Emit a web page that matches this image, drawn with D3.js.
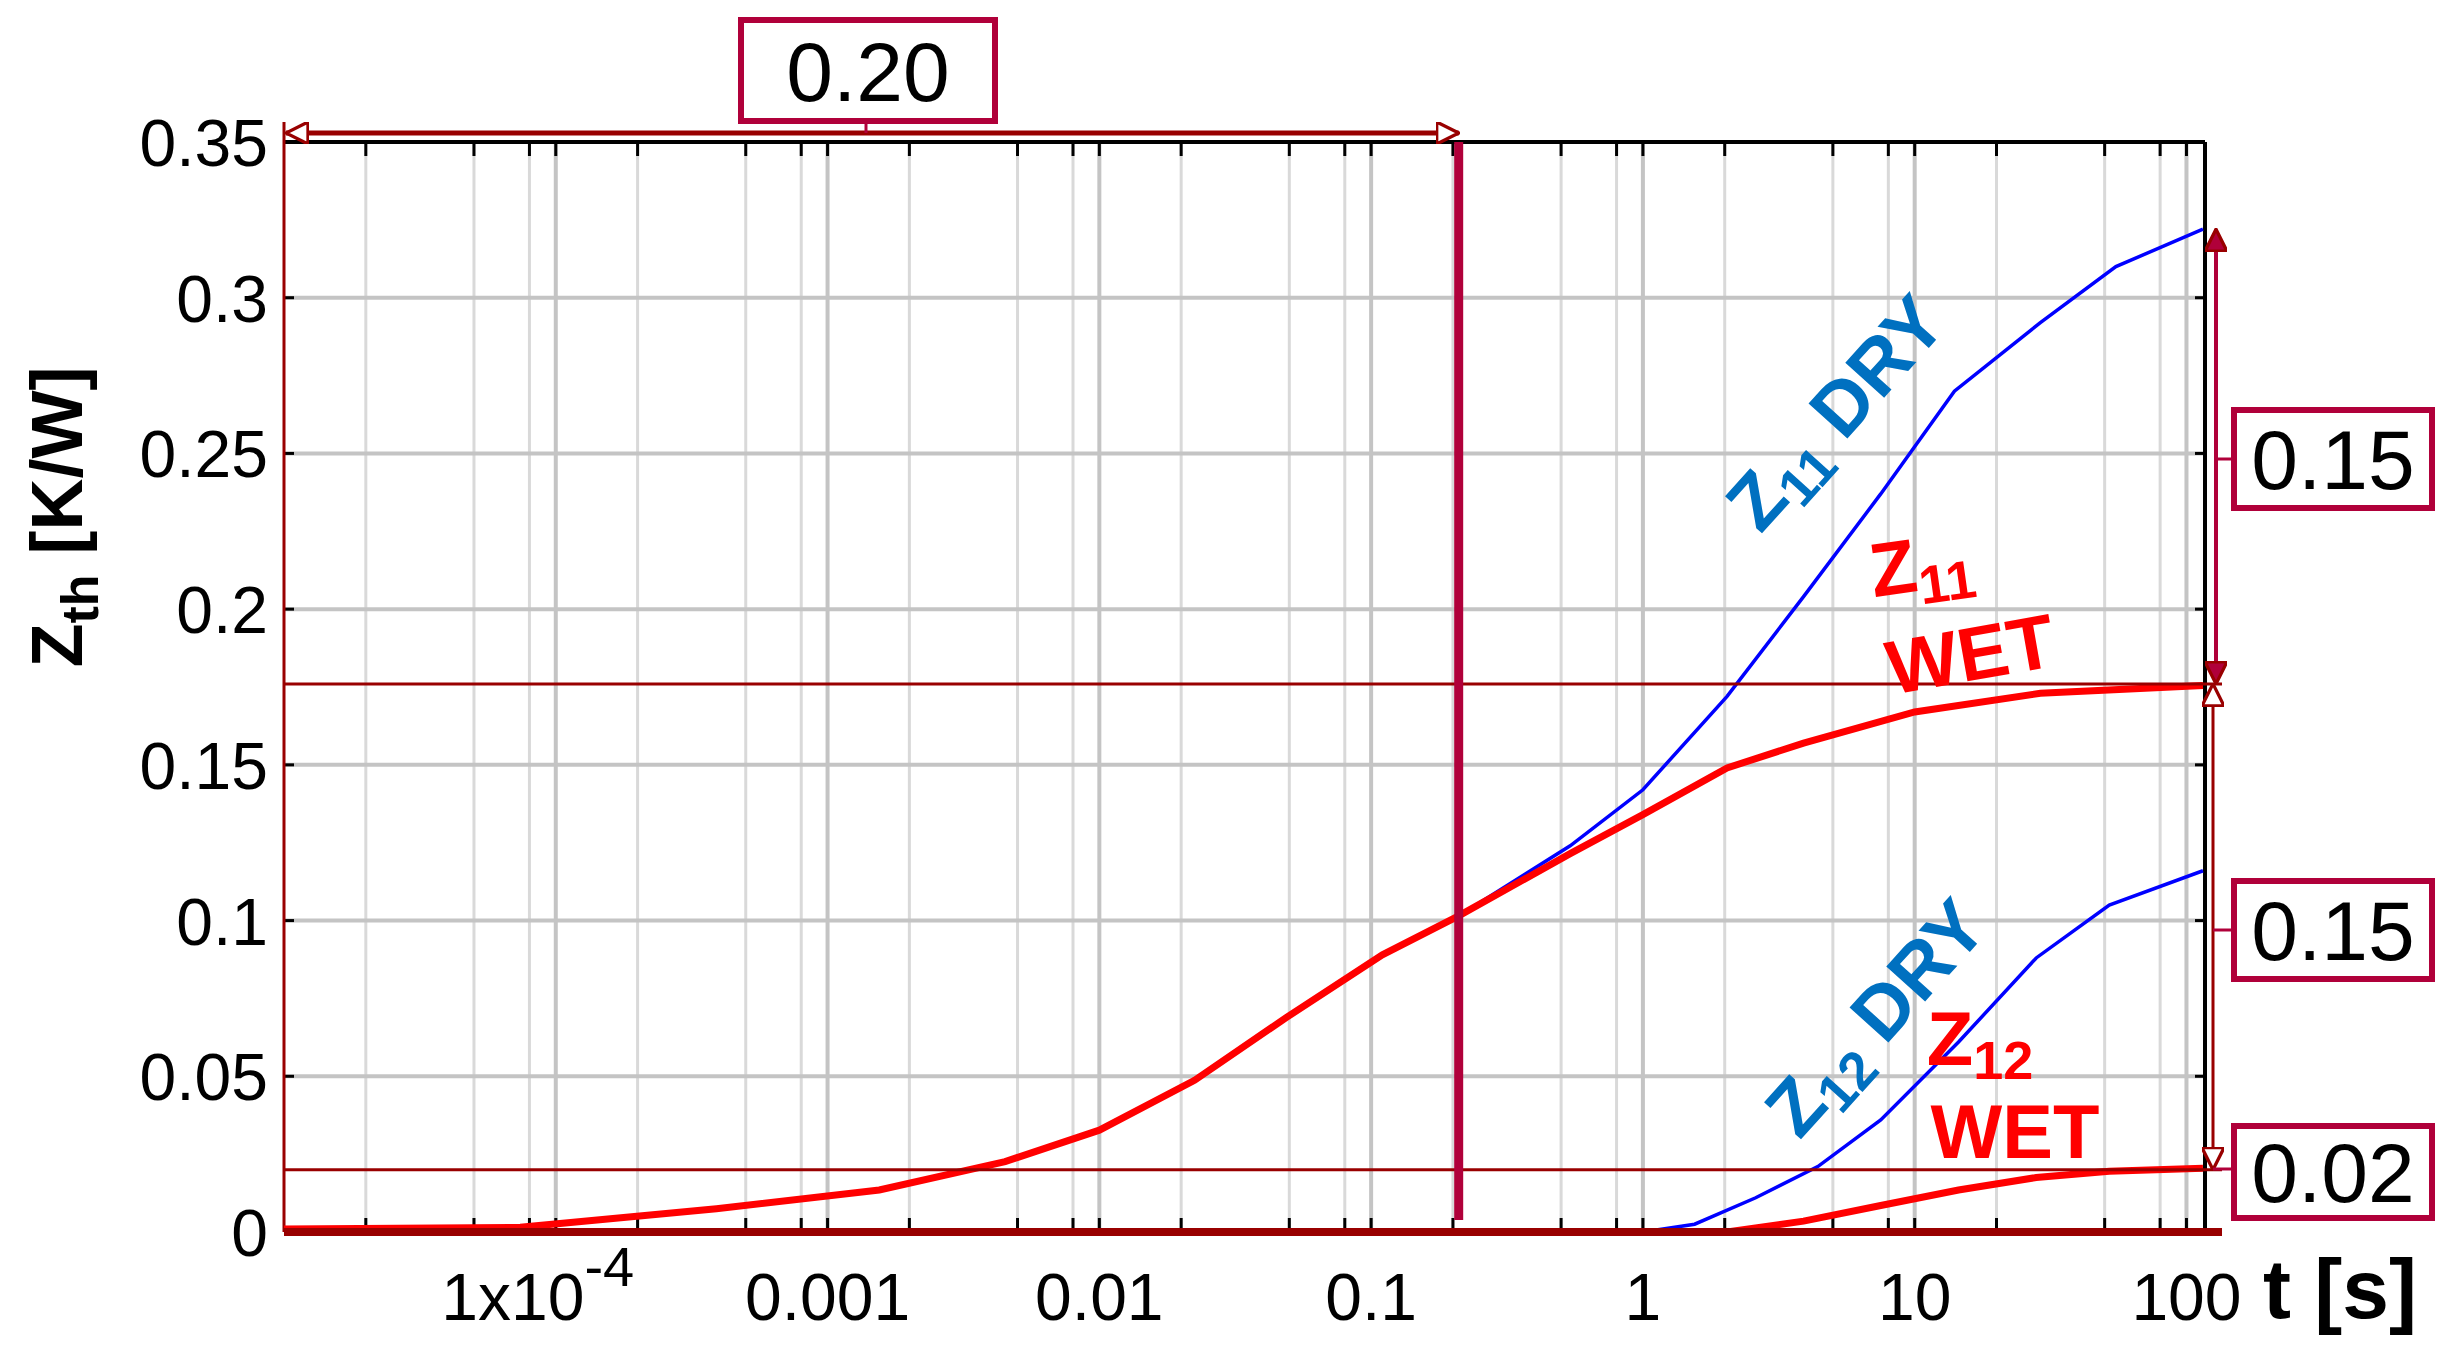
<!DOCTYPE html>
<html><head><meta charset="utf-8">
<script src="https://cdn.jsdelivr.net/npm/d3@7"></script>
<style>body{margin:0;background:#fff}</style>
</head><body>
<svg id="chart" width="2451" height="1371"></svg>
<script>
// data
const z11WetT = [1e-5, 7.4e-5, 3.9e-4, 1.55e-3, 4.5e-3, 0.01, 0.0224, 0.049, 0.11, 0.21, 0.54, 1, 2.04, 3.9, 10, 29, 115];
const z11WetV = [0.001, 0.0015, 0.0075, 0.0135, 0.0226, 0.0327, 0.0487, 0.069, 0.089, 0.1015, 0.1215, 0.134, 0.149, 0.157, 0.167, 0.173, 0.1755];
const z11DryT = [0.21, 0.54, 1, 2.04, 3.9, 7.5, 14, 29, 55, 115];
const z11DryV = [0.1015, 0.124, 0.142, 0.172, 0.204, 0.237, 0.27, 0.292, 0.31, 0.322];
const z12DryT = [1e-5, 1, 1.55, 2.6, 4.4, 7.5, 14.5, 28, 52, 115];
const z12DryV = [0, 0, 0.0025, 0.011, 0.021, 0.036, 0.061, 0.088, 0.105, 0.116];
const z12WetT = [1e-5, 2.04, 3.9, 7.5, 14.5, 28, 52, 115];
const z12WetV = [0, 0, 0.0035, 0.0085, 0.0135, 0.0175, 0.0195, 0.0205];
const xTicks = [1e-4, 1e-3, 1e-2, 0.1, 1, 10, 100];
const xTickLabels = ['1x10', '0.001', '0.01', '0.1', '1', '10', '100'];
const yTicks = [0, 0.05, 0.1, 0.15, 0.2, 0.25, 0.3, 0.35];
const markT = 0.21, markLevels = [0.176, 0.02], dryTop = 0.322;

const svg = d3.select('#chart');
const L = 284, R = 2205, T = 142, B = 1232;
const x = d3.scaleLog().domain([1e-5, 117]).range([L, R]);
const y = d3.scaleLinear().domain([0, 0.35]).range([B, T]);
const crimson = '#b0003a', dark = '#990000';
const narrow = '"Liberation Sans Narrow","Arial Narrow","Liberation Sans",sans-serif';
const sans = '"Liberation Sans",Arial,sans-serif';

// grid
const minors = [];
for (let e = -5; e <= 2; e++) [2, 5, 8].forEach(m => { const v = m * 10 ** e; if (v < 117) minors.push(v); });
svg.append('g').selectAll('line').data(minors).join('line')
  .attr('x1', d => x(d)).attr('x2', d => x(d)).attr('y1', T).attr('y2', B)
  .attr('stroke', '#d9d9d9').attr('stroke-width', 3);
svg.append('g').selectAll('line').data(xTicks).join('line')
  .attr('x1', d => x(d)).attr('x2', d => x(d)).attr('y1', T).attr('y2', B)
  .attr('stroke', '#c4c4c4').attr('stroke-width', 4);
svg.append('g').selectAll('line').data(yTicks.slice(1, -1)).join('line')
  .attr('x1', L).attr('x2', R).attr('y1', d => y(d)).attr('y2', d => y(d))
  .attr('stroke', '#c4c4c4').attr('stroke-width', 4);

// small ticks
const tickG = svg.append('g').attr('stroke', '#000').attr('stroke-width', 3);
minors.concat(xTicks).forEach(v => {
  tickG.append('line').attr('x1', x(v)).attr('x2', x(v)).attr('y1', T).attr('y2', T + 14);
  tickG.append('line').attr('x1', x(v)).attr('x2', x(v)).attr('y1', B).attr('y2', B - 14);
});
yTicks.slice(1, -1).forEach(v => {
  tickG.append('line').attr('x1', L).attr('x2', L + 10).attr('y1', y(v)).attr('y2', y(v));
  tickG.append('line').attr('x1', R).attr('x2', R - 10).attr('y1', y(v)).attr('y2', y(v));
});

// frame
svg.append('line').attr('x1', L).attr('x2', R).attr('y1', T).attr('y2', T).attr('stroke', '#000').attr('stroke-width', 4);
svg.append('line').attr('x1', R).attr('x2', R).attr('y1', T).attr('y2', B).attr('stroke', '#000').attr('stroke-width', 4);
svg.append('line').attr('x1', L).attr('x2', L).attr('y1', 122).attr('y2', B).attr('stroke', dark).attr('stroke-width', 3);

// tick labels
svg.append('g').selectAll('text').data(yTicks).join('text')
  .attr('x', L - 16).attr('y', d => y(d) + 24).attr('text-anchor', 'end')
  .attr('font-family', narrow).attr('font-size', 66).text(d => d);
const xl = svg.append('g').attr('font-family', narrow).attr('font-size', 66).attr('text-anchor', 'middle');
xTicks.forEach((v, i) => {
  const t = xl.append('text').attr('x', x(v) - (i === 0 ? 18 : 0)).attr('y', 1320).text(xTickLabels[i]);
  if (i === 0) t.append('tspan').attr('dy', -34).attr('font-size', 56).text('-4');
});

// curves
const line = d3.line().x(d => x(d[0])).y(d => y(d[1]));
const series = [
  [z11DryT, z11DryV, '#0000ff', 3.5], [z12DryT, z12DryV, '#0000ff', 3.5],
  [z11WetT, z11WetV, '#ff0000', 7], [z12WetT, z12WetV, '#ff0000', 7]];
series.forEach(([ts, vs, c, w]) => {
  svg.append('path').datum(ts.map((t, i) => [t, vs[i]])).attr('d', line)
    .attr('fill', 'none').attr('stroke', c).attr('stroke-width', w);
});

// level lines
svg.append('line').attr('x1', L).attr('x2', 2222).attr('y1', B).attr('y2', B).attr('stroke', dark).attr('stroke-width', 8);
markLevels.forEach(v => svg.append('line').attr('x1', L).attr('x2', 2222).attr('y1', y(v)).attr('y2', y(v)).attr('stroke', dark).attr('stroke-width', 3));

// vertical marker
svg.append('line').attr('x1', x(markT)).attr('x2', x(markT)).attr('y1', T).attr('y2', 1220).attr('stroke', crimson).attr('stroke-width', 9);

// arrows
const defs = svg.append('defs');
function marker(id, fill, orient) {
  defs.append('marker').attr('id', id).attr('viewBox', '0 0 10 10').attr('refX', 10).attr('refY', 5)
    .attr('markerWidth', 6).attr('markerHeight', 6).attr('orient', orient).attr('markerUnits', 'userSpaceOnUse')
    .attr('markerWidth', 24).attr('markerHeight', 22)
    .append('path').attr('d', 'M0,0L10,5L0,10Z').attr('fill', fill).attr('stroke', dark).attr('stroke-width', 1.5);
}
marker('af', crimson, 'auto-start-reverse');
marker('ao', '#fff', 'auto-start-reverse');
svg.append('line').attr('x1', L + 2).attr('x2', x(markT)).attr('y1', 133).attr('y2', 133)
  .attr('stroke', dark).attr('stroke-width', 5).attr('marker-start', 'url(#ao)').attr('marker-end', 'url(#ao)');
svg.append('line').attr('x1', 2216).attr('x2', 2216).attr('y1', y(dryTop)).attr('y2', y(markLevels[0]))
  .attr('stroke', crimson).attr('stroke-width', 4).attr('marker-start', 'url(#af)').attr('marker-end', 'url(#af)');
svg.append('line').attr('x1', 2213).attr('x2', 2213).attr('y1', y(markLevels[0])).attr('y2', y(markLevels[1]))
  .attr('stroke', dark).attr('stroke-width', 3).attr('marker-start', 'url(#ao)').attr('marker-end', 'url(#ao)');

// value boxes
function box(x0, y0, w, h, label, lx1, ly1, lx2, ly2) {
  svg.append('line').attr('x1', lx1).attr('y1', ly1).attr('x2', lx2).attr('y2', ly2).attr('stroke', crimson).attr('stroke-width', 3);
  svg.append('rect').attr('x', x0).attr('y', y0).attr('width', w).attr('height', h)
    .attr('fill', '#fff').attr('stroke', crimson).attr('stroke-width', 6);
  svg.append('text').attr('x', x0 + w / 2).attr('y', y0 + h / 2 + 30).attr('text-anchor', 'middle')
    .attr('font-family', sans).attr('font-size', 84).text(label);
}
box(741, 20, 254, 101, '0.20', 866, 121, 866, 133);
box(2234, 410, 198, 98, '0.15', 2216, 459, 2234, 459);
box(2234, 881, 198, 98, '0.15', 2213, 930, 2234, 930);
box(2234, 1126, 198, 92, '0.02', 2213, 1169, 2234, 1169);

// axis titles
const yt = svg.append('text').attr('transform', 'translate(82,517) rotate(-90)').attr('text-anchor', 'middle')
  .attr('font-family', sans).attr('font-weight', 'bold').attr('font-size', 72);
yt.append('tspan').text('Z');
yt.append('tspan').attr('dy', 16).attr('font-size', 52).text('th');
yt.append('tspan').attr('dy', -16).text(' [K/W]');
svg.append('text').attr('x', 2340).attr('y', 1318).attr('text-anchor', 'middle').attr('font-family', sans)
  .attr('font-weight', 'bold').attr('font-size', 84).text('t [s]');

// curve labels
function lab(px, py, rot, main, sub, rest, color, anchor) {
  const t = svg.append('text').attr('transform', `translate(${px},${py}) rotate(${rot})`)
    .attr('text-anchor', anchor || 'middle').attr('font-family', sans).attr('font-weight', 'bold')
    .attr('font-size', 76).attr('fill', color);
  t.append('tspan').text(main);
  if (sub) t.append('tspan').attr('dy', 14).attr('font-size', 54).text(sub);
  if (rest) t.append('tspan').attr('dy', -14).text(rest);
}
lab(1855, 430, -48, 'Z', '11', ' DRY', '#0070c0');
lab(1925, 590, -8, 'Z', '11', '', '#ff0000');
lab(1975, 680, -10, 'WET', '', '', '#ff0000');
lab(1895, 1035, -48, 'Z', '12', ' DRY', '#0070c0');
lab(1980, 1065, 0, 'Z', '12', '', '#ff0000');
lab(2015, 1158, 0, 'WET', '', '', '#ff0000');
</script>
</body></html>
